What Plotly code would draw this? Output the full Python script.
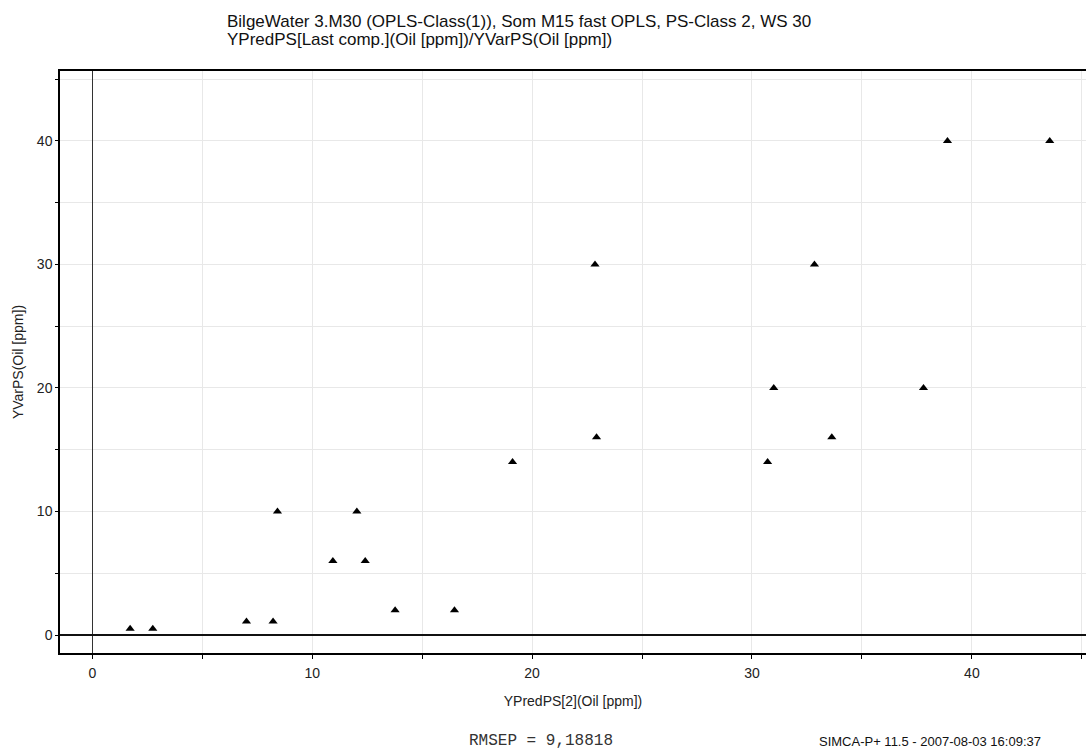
import plotly.graph_objects as go

# Data
y_pred = [1.72, 2.75, 7.01, 8.22, 8.42, 10.94, 12.03, 12.41, 13.77, 16.47,
          19.11, 22.86, 22.93, 30.71, 30.99, 32.84, 33.63, 37.8, 38.89, 43.54]
y_var = [0.5, 0.5, 1.1, 1.1, 10, 6, 10, 6, 2, 2,
         14, 30, 16, 14, 20, 30, 16, 20, 40, 40]

x_ticks = [0, 10, 20, 30, 40]
y_ticks = [0, 10, 20, 30, 40]

title_line1 = "BilgeWater 3.M30 (OPLS-Class(1)), Som M15 fast OPLS, PS-Class 2, WS 30"
title_line2 = "YPredPS[Last comp.](Oil [ppm])/YVarPS(Oil [ppm])"
x_title = "YPredPS[2](Oil [ppm])"
y_title = "YVarPS(Oil [ppm])"
rmsep_text = "RMSEP = 9,18818"
footer_text = "SIMCA-P+ 11.5 - 2007-08-03 16:09:37"

FONT = "Liberation Sans, Arial, sans-serif"

fig = go.Figure()
fig.add_trace(go.Scatter(
    x=y_pred, y=y_var, mode="markers",
    marker=dict(symbol="triangle-up", size=8, color="black", line=dict(width=0)),
    showlegend=False, hoverinfo="x+y",
))

W, H = 1086, 749
ml, mr, mt, mb = 60, 0, 71, 96

title_html = (
    "<span style='font-size:17px'>" + title_line1 + "</span><br>"
    + "<span style='font-size:17px'>" + title_line2 + "</span>"
)

fig.update_layout(
    width=W, height=H,
    margin=dict(l=ml, r=mr, t=mt, b=mb, pad=0),
    paper_bgcolor="white", plot_bgcolor="white",
    font=dict(family=FONT, size=14, color="#222"),
    title=dict(
        text=title_html,
        x=227 / W, xanchor="left", xref="container",
        y=1 - 27 / H, yanchor="top", yref="container",
        font=dict(family=FONT, size=14, color="#111"),
    ),
    xaxis=dict(
        range=[-1.47, 45.19],
        tickmode="array", tickvals=x_ticks, ticktext=[str(v) for v in x_ticks],
        ticks="outside", ticklen=4, tickwidth=1, tickcolor="black",
        minor=dict(dtick=5, tick0=0, ticks="outside", ticklen=4, tickwidth=1,
                   tickcolor="black", showgrid=True, gridcolor="#e8e8e8", gridwidth=1),
        showgrid=True, gridcolor="#e8e8e8", gridwidth=1,
        zeroline=True, zerolinecolor="#333", zerolinewidth=1,
        showline=True, linecolor="black", linewidth=1.5, mirror=True,
        tickfont=dict(family=FONT, size=14, color="#222"),
        ticklabelstandoff=2,
        title=dict(text=x_title, standoff=17, font=dict(family=FONT, size=14, color="#222")),
    ),
    yaxis=dict(
        range=[-1.456, 45.66],
        tickmode="array", tickvals=y_ticks, ticktext=[str(v) for v in y_ticks],
        ticks="outside", ticklen=3, tickwidth=1, tickcolor="black",
        minor=dict(dtick=5, tick0=0, ticks="outside", ticklen=3, tickwidth=1,
                   tickcolor="black", showgrid=True, gridcolor="#e8e8e8", gridwidth=1),
        showgrid=True, gridcolor="#e8e8e8", gridwidth=1,
        zeroline=True, zerolinecolor="#111", zerolinewidth=1.5,
        showline=True, linecolor="black", linewidth=1.5, mirror=False,
        tickfont=dict(family=FONT, size=14, color="#222"),
        title=dict(text=y_title, standoff=10, font=dict(family=FONT, size=14, color="#222")),
    ),
)

plot_w = W - ml - mr
plot_h = H - mt - mb
fig.add_annotation(
    text=rmsep_text, xref="paper", yref="paper",
    x=(541 - ml) / plot_w, y=(H - mb - 741) / plot_h,
    xanchor="center", yanchor="middle", showarrow=False,
    font=dict(family="Liberation Mono, Courier New, monospace", size=16, color="#333"),
)
fig.add_annotation(
    text=footer_text, xref="paper", yref="paper",
    x=(817 - ml) / plot_w, y=(H - mb - 741) / plot_h,
    xanchor="left", yanchor="middle", showarrow=False,
    font=dict(family=FONT, size=13, color="#111"),
)

fig.write_html("out.html")
